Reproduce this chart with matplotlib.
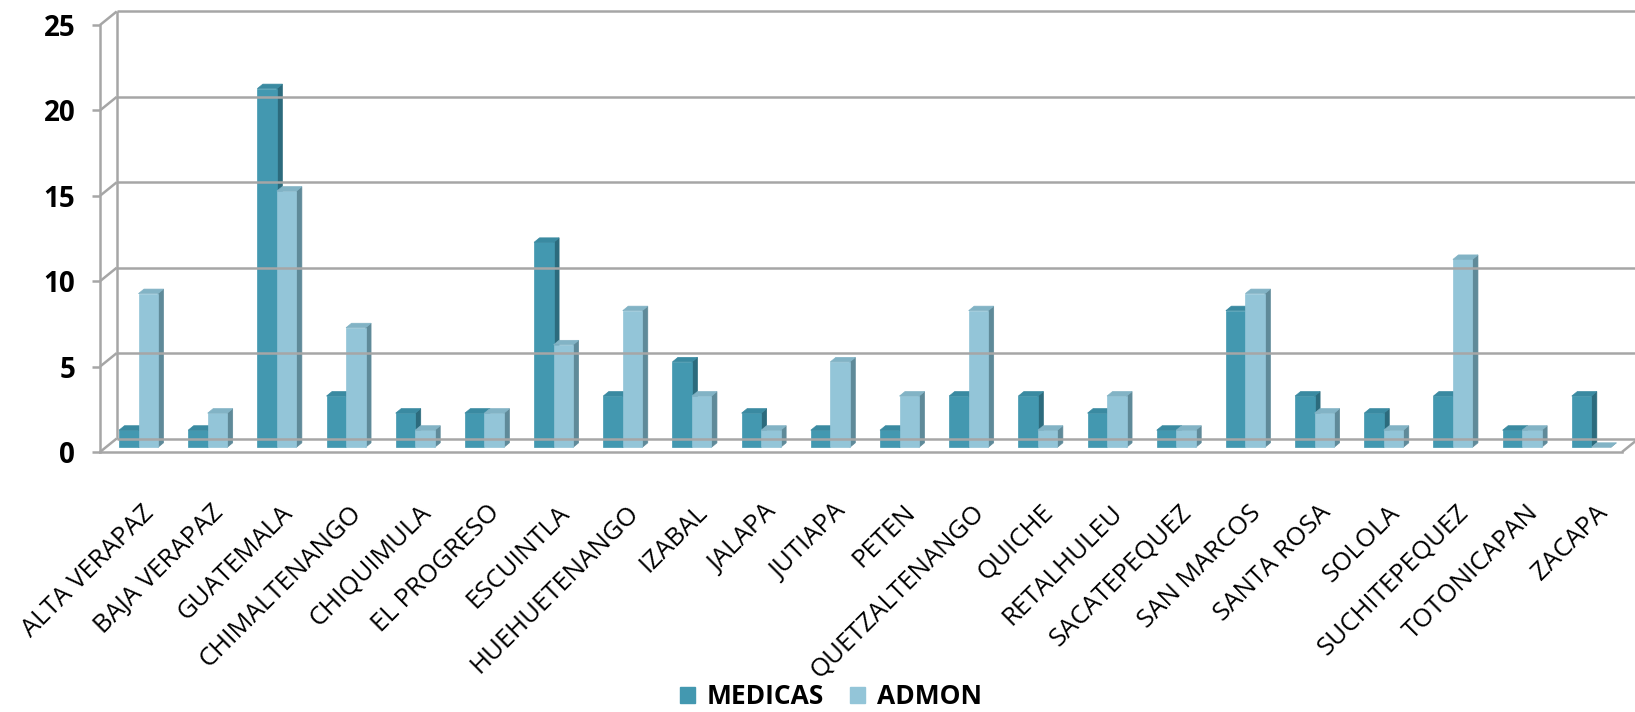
import matplotlib
matplotlib.use("Agg")
import matplotlib.pyplot as plt
from matplotlib.patches import Polygon, Patch
from matplotlib import transforms

plt.rcParams['font.family'] = ['Open Sans', 'DejaVu Sans']

# data
departamentos = ["ALTA VERAPAZ", "BAJA VERAPAZ", "GUATEMALA", "CHIMALTENANGO",
                 "CHIQUIMULA", "EL PROGRESO", "ESCUINTLA", "HUEHUETENANGO",
                 "IZABAL", "JALAPA", "JUTIAPA", "PETEN", "QUETZALTENANGO",
                 "QUICHE", "RETALHULEU", "SACATEPEQUEZ", "SAN MARCOS",
                 "SANTA ROSA", "SOLOLA", "SUCHITEPEQUEZ", "TOTONICAPAN", "ZACAPA"]
medicas = [1, 1, 21, 3, 2, 2, 12, 3, 5, 2, 1, 1, 3, 3, 2, 1, 8, 3, 2, 3, 1, 3]
admon = [9, 2, 15, 7, 1, 2, 6, 8, 3, 1, 5, 3, 8, 1, 3, 1, 9, 2, 1, 11, 1, 0]
yticks = [0, 5, 10, 15, 20, 25]

# colours (front, side, top)
col_med = ("#4398b0", "#2c6b7d", "#3a8aa1")
col_adm = ("#93c5d8", "#5f8a99", "#82b3c5")
grid_c = "#a6a6a6"

W, H = 1635, 712
fig = plt.figure(figsize=(W / 100, H / 100), dpi=100)
ax = fig.add_axes([100 / W, (H - 452) / H, 1522 / W, 427 / H])
n = len(departamentos)
ax.set_xlim(-0.5, n - 0.5)
ax.set_ylim(0, 25)

# pseudo 3d offsets in data units
px_x = 1522 / n
px_y = 427 / 25
DX, DY = 16.7 / px_x, 13.5 / px_y      # wall depth
BX, BY = 5.5 / px_x, 4.5 / px_y        # bar depth
LX, LY = 5.0 / px_x, 4.7 / px_y        # bar front face lifted into the floor
bw = 19.5 / px_x
x_start = -0.5 + 19 / px_x - LX

kw = dict(color=grid_c, lw=1.8, clip_on=False, solid_capstyle='butt')
# back wall grid and left wall diagonals
for v in yticks:
    ax.plot([-0.5 + DX, n - 0.5 + DX], [v + DY, v + DY], **kw)
    ax.plot([-0.5, -0.5 + DX], [v, v + DY], **kw)
ax.plot([-0.5 + DX, -0.5 + DX], [DY, 25 + DY], **kw)
# floor right edge
ax.plot([n - 0.5, n - 0.5 + DX], [0, DY], **kw)


def bar3d(x0, v, cols):
    b = LY
    x0 = x0 + LX
    x1 = x0 + bw
    side = [(x1, b), (x1 + BX, b + BY), (x1 + BX, b + v + BY), (x1, b + v)]
    top = [(x0, b + v), (x0 + BX, b + v + BY), (x1 + BX, b + v + BY), (x1, b + v)]
    ax.add_patch(Polygon(side, closed=True, fc=cols[1], ec=cols[1], lw=0.5, clip_on=False))
    if v > 0:
        ax.add_patch(plt.Rectangle((x0, b), bw, v, fc=cols[0], ec=cols[0], lw=0.5, clip_on=False))
    ax.add_patch(Polygon(top, closed=True, fc=cols[2], ec=cols[2], lw=0.5, clip_on=False))


for i in range(n):
    xs = i + x_start
    bar3d(xs, medicas[i], col_med)
    bar3d(xs + bw, admon[i], col_adm)

# front axes
for s in ['top', 'right']:
    ax.spines[s].set_visible(False)
for s in ['left', 'bottom']:
    ax.spines[s].set_color(grid_c)
    ax.spines[s].set_linewidth(1.8)

ax.set_yticks(yticks)
ax.set_yticklabels([str(t) for t in yticks], fontsize=20, fontweight='bold')
ax.tick_params(axis='y', length=5.8, width=1.8, color=grid_c, pad=12)
ax.set_xticks([])

lab_tr = transforms.offset_copy(ax.get_xaxis_transform(), fig=fig, x=16, y=-57, units='dots')
for i, name in enumerate(departamentos):
    ax.text(i, 0, name, transform=lab_tr, rotation=45, rotation_mode='anchor',
            ha='right', va='center', fontsize=18.5)

handles = [Patch(fc=col_med[0], ec=col_med[0]), Patch(fc=col_adm[0], ec=col_adm[0])]
fig.legend(handles, ["MEDICAS", "ADMON"], loc='center', bbox_to_anchor=(831 / W, 1 - 697 / H),
           ncol=2, frameon=False, prop={'weight': 'bold', 'size': 19},
           handlelength=0.57, handleheight=0.57, handletextpad=0.45, columnspacing=1.0)

fig.savefig("out.png", dpi=100)
